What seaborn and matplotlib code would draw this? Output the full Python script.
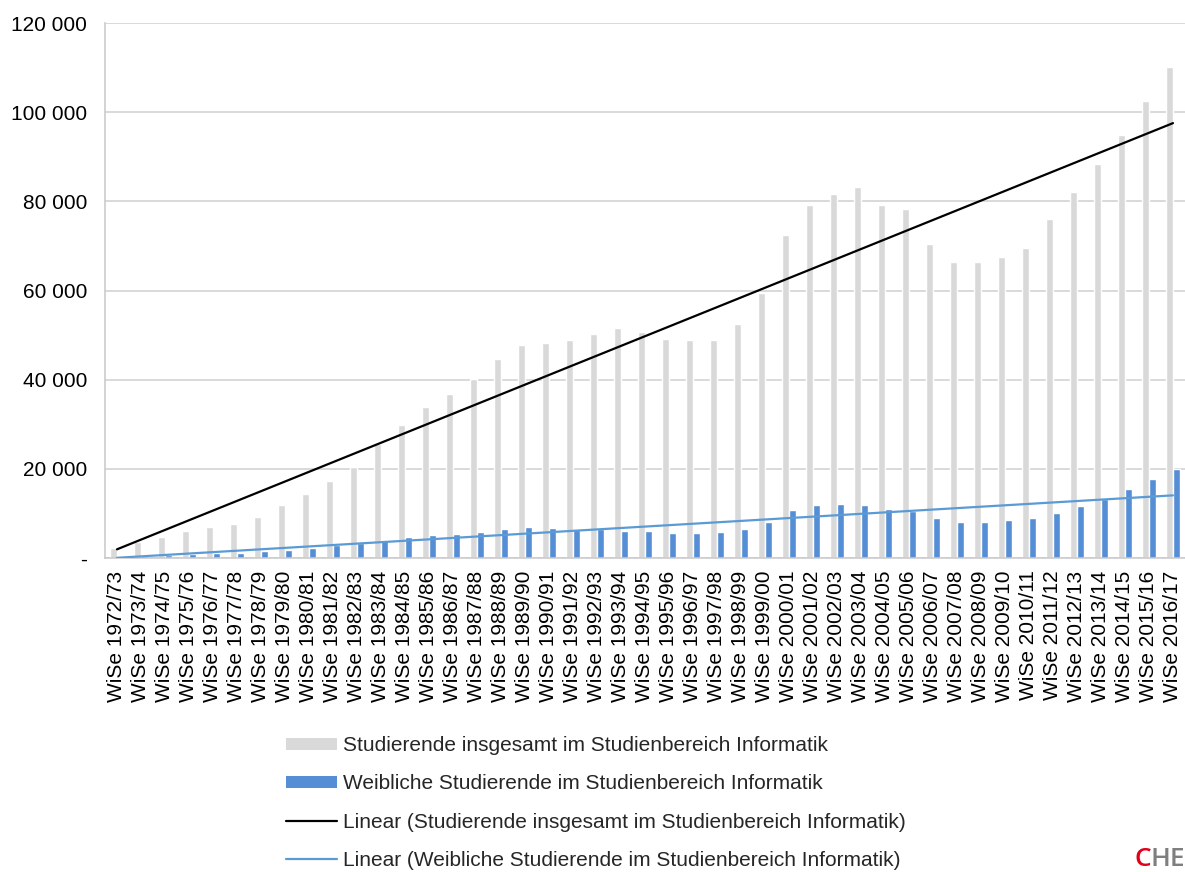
import numpy as np
import pandas as pd
import matplotlib
matplotlib.use("Agg")
import matplotlib.pyplot as plt
import seaborn as sns
from matplotlib.patches import Patch
from matplotlib.lines import Line2D
from matplotlib.ticker import FuncFormatter, MultipleLocator

# Winter semesters 1972/73 .. 2016/17
semesters = [f"WiSe {y}/{str(y + 1)[-2:]}" for y in range(1972, 2017)]

# Students in computer science, total
total = [2200, 3500, 4700, 6000, 7000, 7700, 9200, 11800, 14400, 17300,
         20500, 25600, 29800, 33900, 36800, 40100, 44600, 47800, 48200, 48800,
         50200, 51500, 50600, 49100, 48900, 48800, 52400, 59400, 72400, 79100,
         81600, 83300, 79200, 78300, 70500, 66500, 66500, 67500, 69500, 76000,
         82200, 88300, 94800, 102500, 110100]

# Female students in computer science
female = [300, 400, 750, 1000, 1100, 1100, 1500, 1900, 2300, 2900,
          3400, 4000, 4700, 5100, 5500, 5900, 6600, 7000, 6700, 6500,
          6600, 6100, 6000, 5700, 5600, 5800, 6600, 8000, 10700, 11800,
          12100, 12000, 11100, 10600, 8900, 8000, 8200, 8500, 8900, 10000,
          11700, 13200, 15500, 17800, 19900]

lab_total = "Studierende insgesamt im Studienbereich Informatik"
lab_female = "Weibliche Studierende im Studienbereich Informatik"
lab_trend_total = "Linear (Studierende insgesamt im Studienbereich Informatik)"
lab_trend_female = "Linear (Weibliche Studierende im Studienbereich Informatik)"

GRAY = "#D9D9D9"
BLUE = "#558ED5"
TREND_BLUE = "#5B9BD5"
FS = 15

df = pd.DataFrame({
    "semester": semesters * 2,
    "value": total + female,
    "series": [lab_total] * len(semesters) + [lab_female] * len(semesters),
})

sns.set_style("white")
plt.rcParams["font.family"] = ["Liberation Sans", "DejaVu Sans"]

fig = plt.figure(figsize=(11.85, 8.72), dpi=100)
ax = fig.add_axes([0.0886, 0.360, 0.9114, 0.6136])

sns.barplot(data=df, x="semester", y="value", hue="series",
            palette=[GRAY, BLUE], width=0.56, gap=0, saturation=1,
            errorbar=None, ax=ax, legend=False)

# Linear trend lines (least squares over category index)
idx = np.arange(len(semesters))
for values, color in [(total, "black"), (female, TREND_BLUE)]:
    slope, intercept = np.polyfit(idx + 1, values, 1)
    ax.plot(idx, slope * (idx + 1) + intercept, color=color, lw=1.6, zorder=5)

ax.set_xlim(-0.5, len(semesters) - 0.5)
ax.set_ylim(0, 120000)
ax.yaxis.set_major_locator(MultipleLocator(20000))
ax.yaxis.set_major_formatter(FuncFormatter(
    lambda v, _: "-" if v == 0 else f"{int(v):,}".replace(",", " ")))
ax.grid(axis="y", color="#D0D0D0", lw=1.1)
ax.set_axisbelow(True)
ax.set_xlabel("")
ax.set_ylabel("")

for side in ["top", "right"]:
    ax.spines[side].set_visible(False)
ax.spines["left"].set_color("#C8C8C8")
ax.spines["bottom"].set_color("#C8C8C8")
ax.spines["left"].set_linewidth(1.1)
ax.spines["bottom"].set_linewidth(1.1)

ax.tick_params(axis="y", length=0, pad=13, labelsize=FS, labelcolor="black")
ax.tick_params(axis="x", which="major", length=0, pad=9, labelsize=FS,
               labelrotation=90, labelcolor="black")
ax.set_xticks(np.arange(-0.5, len(semesters), 1.0), minor=True)
ax.tick_params(axis="x", which="minor", length=6, color="#C8C8C8", width=1.1)

handles = [
    Patch(facecolor=GRAY, edgecolor="none"),
    Patch(facecolor=BLUE, edgecolor="none"),
    Line2D([], [], color="black", lw=1.6),
    Line2D([], [], color=TREND_BLUE, lw=1.6),
]
fig.legend(handles, [lab_total, lab_female, lab_trend_total, lab_trend_female],
           loc="upper left", bbox_to_anchor=(0.234, 0.1655), frameon=False,
           fontsize=FS, handlelength=2.45, handleheight=0.5,
           handletextpad=0.3, labelspacing=0.93, borderaxespad=0)

# CHE mark in the lower right corner
for x, s, c in [(0.957, "C", "#E2001A"), (0.9705, "HE", "#7F7F7F")]:
    fig.text(x, 0.0, s, color=c, fontsize=19,
             family=["Open Sans", "DejaVu Sans"], fontweight="semibold",
             ha="left", va="bottom")

fig.savefig("out.png", dpi=100)
